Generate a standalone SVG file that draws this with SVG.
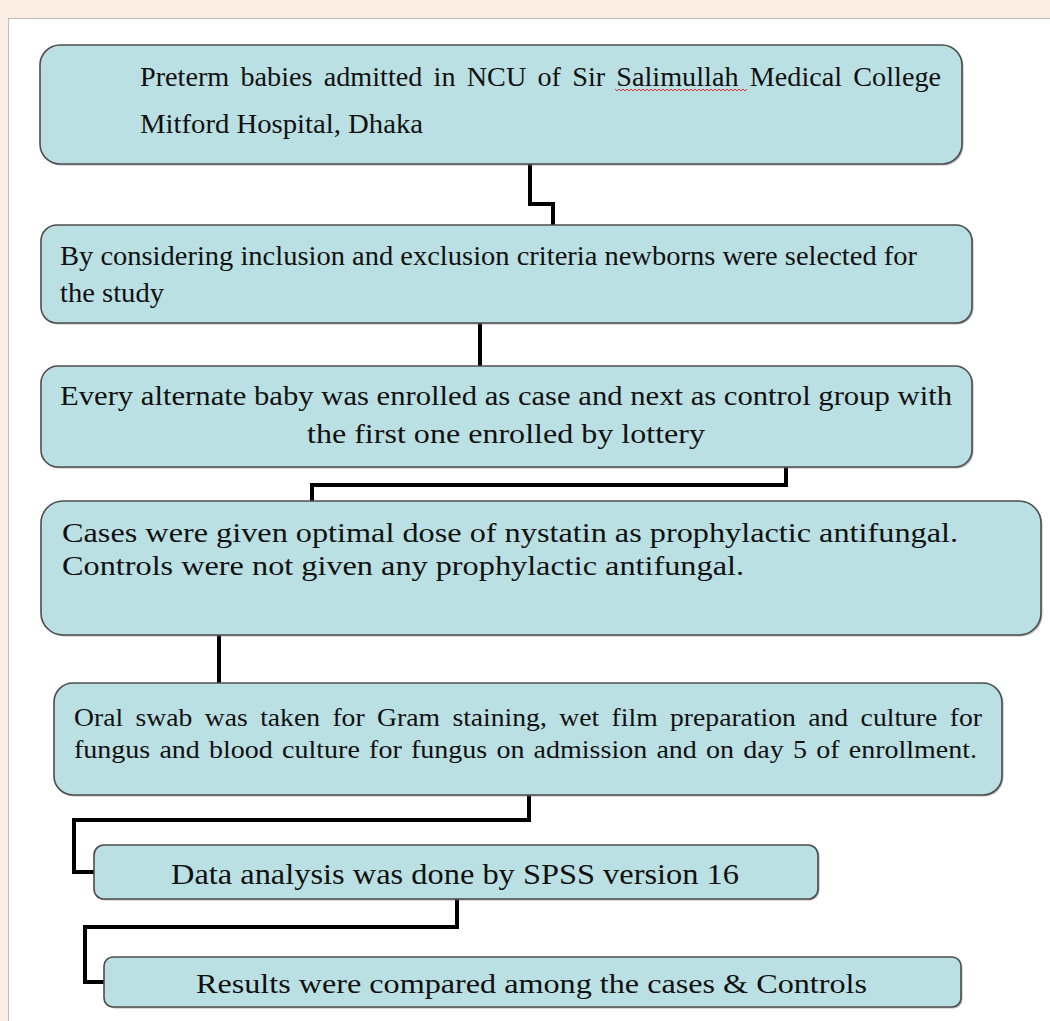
<svg xmlns="http://www.w3.org/2000/svg" width="1050" height="1021" viewBox="0 0 1050 1021">
<style>
.box{fill:#bae0e3;stroke:#4d4d4d;stroke-width:1.6}
.sh{fill:#7a7a7a;opacity:0.55}
.t{font-family:"Liberation Serif","Times New Roman",serif;fill:#111}
.c{fill:none;stroke:#000;stroke-width:4;stroke-linejoin:miter;stroke-linecap:butt}
</style>
<rect x="0" y="0" width="1050" height="1021" fill="#fcede3"/>
<rect x="8.5" y="18.5" width="1060" height="1020" fill="#ffffff" stroke="#bdbdbd" stroke-width="1"/>

<g id="connectors">
<path class="c" d="M530,164 V204 H553 V225"/>
<path class="c" d="M480,323 V366"/>
<path class="c" d="M786,467 V485 H312 V501"/>
<path class="c" d="M219,635 V683"/>
<path class="c" d="M529,795 V820 H74 V872 H94"/>
<path class="c" d="M457,899 V927 H85 V982 H104"/>
</g>

<g id="node1">
<rect class="sh" x="41.5" y="46.5" width="922" height="119" rx="20"/>
<rect class="box" x="40" y="45" width="922" height="119" rx="20"/>
<text class="t" x="140" y="86" font-size="27" word-spacing="4" textLength="801" lengthAdjust="spacingAndGlyphs">Preterm babies admitted in NCU of Sir Salimullah Medical College</text>
<path d="M615,89 l2,2 l2,-2 l2,2 l2,-2 l2,2 l2,-2 l2,2 l2,-2 l2,2 l2,-2 l2,2 l2,-2 l2,2 l2,-2 l2,2 l2,-2 l2,2 l2,-2 l2,2 l2,-2 l2,2 l2,-2 l2,2 l2,-2 l2,2 l2,-2 l2,2 l2,-2 l2,2 l2,-2 l2,2 l2,-2 l2,2 l2,-2 l2,2 l2,-2 l2,2 l2,-2 l2,2 l2,-2 l2,2 l2,-2 l2,2 l2,-2 l2,2 l2,-2 l2,2 l2,-2 l2,2 l2,-2 l2,2 l2,-2 l2,2 l2,-2 l2,2 l2,-2 l2,2 l2,-2 l2,2 l2,-2 l2,2 l2,-2 l2,2 l2,-2 l2,2 l2,-2" fill="none" stroke="#e0333a" stroke-width="1"/>
<text class="t" x="140" y="133" font-size="27" textLength="283" lengthAdjust="spacingAndGlyphs">Mitford Hospital, Dhaka</text>
</g>

<g id="node2">
<rect class="sh" x="42.5" y="226.5" width="931" height="98" rx="16"/>
<rect class="box" x="41" y="225" width="931" height="98" rx="16"/>
<text class="t" x="60" y="265" font-size="27" textLength="857" lengthAdjust="spacingAndGlyphs">By considering inclusion and exclusion criteria newborns were selected for</text>
<text class="t" x="60" y="302" font-size="27" textLength="104" lengthAdjust="spacingAndGlyphs">the study</text>
</g>

<g id="node3">
<rect class="sh" x="42.5" y="367.5" width="931" height="101" rx="17"/>
<rect class="box" x="41" y="366" width="931" height="101" rx="17"/>
<text class="t" x="60" y="405" font-size="27" textLength="892" lengthAdjust="spacingAndGlyphs">Every alternate baby was enrolled as case and next as control group with</text>
<text class="t" x="307" y="443" font-size="27" textLength="398" lengthAdjust="spacingAndGlyphs">the first one enrolled by lottery</text>
</g>

<g id="node4">
<rect class="sh" x="42.5" y="502.5" width="1000" height="134" rx="22"/>
<rect class="box" x="41" y="501" width="1000" height="134" rx="22"/>
<text class="t" x="62" y="542" font-size="27" textLength="896" lengthAdjust="spacingAndGlyphs">Cases were given optimal dose of nystatin as prophylactic antifungal.</text>
<text class="t" x="62" y="575" font-size="27" textLength="682" lengthAdjust="spacingAndGlyphs">Controls were not given any prophylactic antifungal.</text>
</g>

<g id="node5">
<rect class="sh" x="55.5" y="684.5" width="948" height="112" rx="19"/>
<rect class="box" x="54" y="683" width="948" height="112" rx="19"/>
<text class="t" x="74" y="726" font-size="25" word-spacing="5" textLength="908" lengthAdjust="spacingAndGlyphs">Oral swab was taken for Gram staining, wet film preparation and culture for</text>
<text class="t" x="74" y="758" font-size="25" word-spacing="2" textLength="903" lengthAdjust="spacingAndGlyphs">fungus and blood culture for fungus on admission and on day 5 of enrollment.</text>
</g>

<g id="node6">
<rect class="sh" x="95.5" y="846.5" width="724" height="54" rx="10"/>
<rect class="box" x="94" y="845" width="724" height="54" rx="10"/>
<text class="t" x="171" y="884" font-size="30" textLength="568" lengthAdjust="spacingAndGlyphs">Data analysis was done by SPSS version 16</text>
</g>

<g id="node7">
<rect class="sh" x="105.5" y="958.5" width="857" height="50" rx="9"/>
<rect class="box" x="104" y="957" width="857" height="50" rx="9"/>
<text class="t" x="196" y="993" font-size="28" textLength="671" lengthAdjust="spacingAndGlyphs">Results were compared among the cases &amp; Controls</text>
</g>
</svg>
